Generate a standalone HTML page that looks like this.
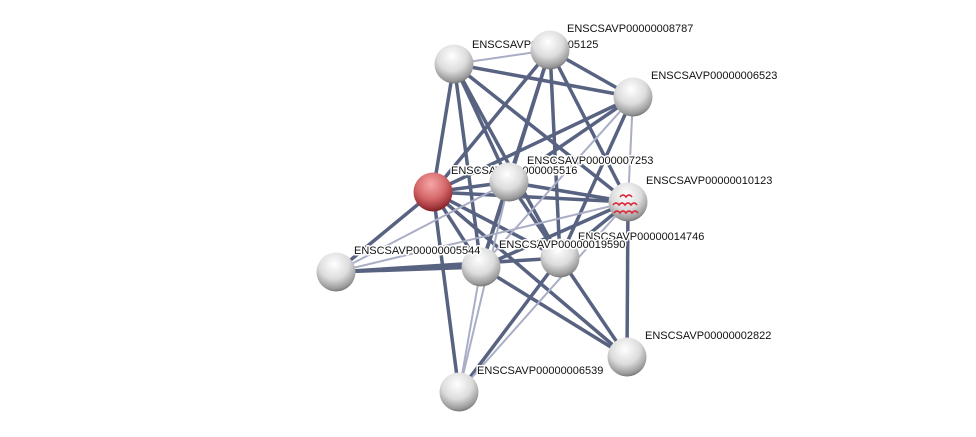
<!DOCTYPE html>
<html><head><style>
html,body{margin:0;padding:0;background:#fff;width:976px;height:437px;overflow:hidden}
svg text{font-family:"Liberation Sans",sans-serif;font-size:11px;fill:#111;paint-order:stroke;stroke:#fff;stroke-width:3px;stroke-linejoin:round}
</style></head><body>
<svg width="976" height="437" viewBox="0 0 976 437" xmlns="http://www.w3.org/2000/svg">
<defs>
<radialGradient id="g" cx="45%" cy="30%" r="70%">
<stop offset="0" stop-color="#ffffff"/><stop offset="0.55" stop-color="#dcdcdc"/><stop offset="0.9" stop-color="#9a9a9a"/><stop offset="1" stop-color="#777"/></radialGradient>
<radialGradient id="r" cx="45%" cy="30%" r="70%">
<stop offset="0" stop-color="#f6a6a6"/><stop offset="0.55" stop-color="#d4676a"/><stop offset="0.9" stop-color="#9a3035"/><stop offset="1" stop-color="#7a2025"/></radialGradient>
</defs>
<g stroke-linecap="round">
<g stroke="#465274" stroke-width="3.5" opacity="0.9">
<line x1="454" y1="64" x2="633" y2="97"/>
<line x1="454" y1="64" x2="433" y2="192"/>
<line x1="454" y1="64" x2="509" y2="182"/>
<line x1="454" y1="64" x2="628" y2="202"/>
<line x1="454" y1="64" x2="481" y2="267"/>
<line x1="454" y1="64" x2="560" y2="258"/>
<line x1="550" y1="50" x2="633" y2="97"/>
<line x1="550" y1="50" x2="433" y2="192"/>
<line x1="550" y1="50" x2="628" y2="202"/>
<line x1="550" y1="50" x2="481" y2="267"/>
<line x1="550" y1="50" x2="560" y2="258"/>
<line x1="550" y1="50" x2="509" y2="182"/>
<line x1="633" y1="97" x2="433" y2="192"/>
<line x1="633" y1="97" x2="509" y2="182"/>
<line x1="633" y1="97" x2="560" y2="258"/>
<line x1="433" y1="192" x2="509" y2="182"/>
<line x1="433" y1="192" x2="628" y2="202"/>
<line x1="433" y1="192" x2="336" y2="272"/>
<line x1="433" y1="192" x2="481" y2="267"/>
<line x1="433" y1="192" x2="560" y2="258"/>
<line x1="433" y1="192" x2="627" y2="357"/>
<line x1="433" y1="192" x2="459" y2="392"/>
<line x1="509" y1="182" x2="628" y2="202"/>
<line x1="509" y1="182" x2="560" y2="258"/>
<line x1="509" y1="182" x2="481" y2="267"/>
<line x1="628" y1="202" x2="560" y2="258"/>
<line x1="628" y1="202" x2="481" y2="267"/>
<line x1="628" y1="202" x2="627" y2="357"/>
<line x1="336" y1="272" x2="481" y2="267"/>
<line x1="336" y1="272" x2="560" y2="258"/>
<line x1="481" y1="267" x2="627" y2="357"/>
<line x1="560" y1="258" x2="627" y2="357"/>
<line x1="560" y1="258" x2="459" y2="392"/>
</g>
<g stroke="#a9aec6" stroke-width="2">
<line x1="454" y1="64" x2="550" y2="50"/>
<line x1="633" y1="97" x2="628" y2="202"/>
<line x1="633" y1="97" x2="481" y2="267"/>
<line x1="509" y1="182" x2="336" y2="272"/>
<line x1="628" y1="202" x2="336" y2="272"/>
<line x1="481" y1="267" x2="459" y2="392"/>
<line x1="509" y1="182" x2="459" y2="392"/>
<line x1="628" y1="202" x2="459" y2="392"/>
</g>
</g>
<text x="472" y="48">ENSCSAVP00000005125</text>
<text x="567" y="32">ENSCSAVP00000008787</text>
<text x="651" y="79">ENSCSAVP00000006523</text>
<text x="451" y="174">ENSCSAVP00000005516</text>
<text x="646" y="184">ENSCSAVP00000010123</text>
<text x="645" y="339">ENSCSAVP00000002822</text>
<g>
<circle cx="454" cy="64" r="19.5" fill="url(#g)"/>
<circle cx="550" cy="50" r="19.5" fill="url(#g)"/>
<circle cx="633" cy="97" r="19.5" fill="url(#g)"/>
<circle cx="433" cy="192" r="19.5" fill="url(#r)"/>
<circle cx="509" cy="182" r="19.5" fill="url(#g)"/>
<circle cx="628" cy="202" r="19.5" fill="url(#g)"/>
<path d="M613 205 q3-4 6 0 q3-4 6 0 q3-4 6 0 q3-4 6 0 M614 213 q3-4 6 0 q3-4 6 0 q3-4 6 0 q3-4 6 0 M620 197 q3-4 6 0 q3-4 6 0" stroke="#d23" stroke-width="1.5" fill="none"/>
<circle cx="336" cy="272" r="19.5" fill="url(#g)"/>
<circle cx="481" cy="267" r="19.5" fill="url(#g)"/>
<circle cx="560" cy="258" r="19.5" fill="url(#g)"/>
<circle cx="627" cy="357" r="19.5" fill="url(#g)"/>
<circle cx="459" cy="392" r="19.5" fill="url(#g)"/>
</g>
<text x="527" y="164">ENSCSAVP00000007253</text>
<text x="578" y="240">ENSCSAVP00000014746</text>
<text x="354" y="254">ENSCSAVP00000005544</text>
<text x="499" y="248">ENSCSAVP00000019590</text>
<text x="477" y="374">ENSCSAVP00000006539</text>
</svg>
</body></html>
